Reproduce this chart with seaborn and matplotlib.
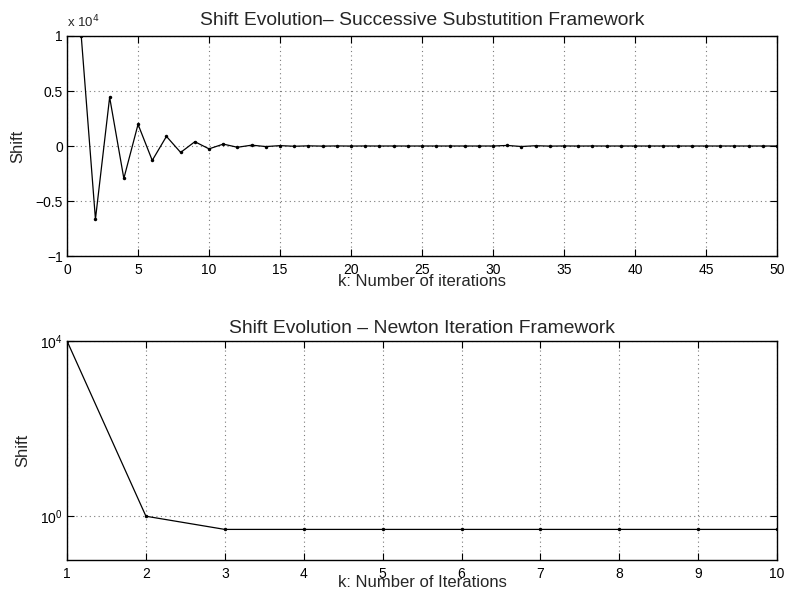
import numpy as np
import pandas as pd
import matplotlib
matplotlib.use("Agg")
import matplotlib.pyplot as plt
import matplotlib.ticker as mticker
import seaborn as sns

# Successive substitution: shift per iteration (k = 1..50)
ss_k = list(range(1, 51))
ss_shift = [10000, -6650, 4430, -2950, 1970, -1310, 875, -585, 390, -260,
            173, -115, 77, -51, 34, -23, 15, -10, 7, -4.5,
            3, -2, 1.3, -0.9, 0.6, -0.4, 0.3, -0.2, 0.1, 0.1,
            50, -45, 25, -10, 5, -3, 2, -1, 0.5, -0.3,
            0.2, -0.1, 0.1, 0, 0, 0, 0, 0, 0, 0]

# Newton iteration: shift per iteration (k = 1..10)
nt_k = list(range(1, 11))
nt_shift = [1e4, 1.0, 0.5, 0.5, 0.5, 0.5, 0.5, 0.5, 0.5, 0.5]

ss_df = pd.DataFrame({"k": ss_k, "shift": ss_shift})
nt_df = pd.DataFrame({"k": nt_k, "shift": nt_shift})

sns.set_style("ticks")
plt.rcParams["font.family"] = ["Liberation Sans", "DejaVu Sans"]
plt.rcParams["axes.unicode_minus"] = True

fig = plt.figure(figsize=(7.85, 5.94), dpi=100)
ax1 = fig.add_axes([0.0854, 0.569, 0.9045, 0.3704])
ax2 = fig.add_axes([0.0854, 0.0572, 0.9045, 0.3687])

grid_kw = dict(color="#7a7a7a", linestyle=(0, (1, 3)), linewidth=0.8)


def style_axes(ax):
    for sp in ax.spines.values():
        sp.set_color("black")
        sp.set_linewidth(1.0)
    ax.tick_params(direction="in", length=5, width=0.8, top=True, right=True,
                   labelsize=10, colors="black")
    ax.tick_params(axis="x", pad=5)
    ax.tick_params(axis="y", pad=3)
    ax.tick_params(which="minor", length=0)
    ax.grid(True, **grid_kw)


# Upper panel
sns.lineplot(data=ss_df, x="k", y="shift", ax=ax1, color="black",
             linewidth=0.9, marker="o", markersize=2.5, markeredgewidth=0,
             markerfacecolor="black")
ax1.set_xlim(0, 50)
ax1.set_ylim(-1e4, 1e4)
ax1.set_xticks(range(0, 51, 5))
ax1.set_yticks([-1e4, -0.5e4, 0, 0.5e4, 1e4])


def scaled(v, pos):
    s = v / 1e4
    if abs(s) < 1e-12:
        return "0"
    txt = f"{s:g}"
    return txt.replace("-", "\u2212")


ax1.yaxis.set_major_formatter(mticker.FuncFormatter(scaled))
style_axes(ax1)
ax1.set_title("Shift Evolution\u2013 Successive Substutition Framework",
              fontsize=13.9, pad=7.8)
ax1.set_xlabel("k: Number of iterations", fontsize=12, labelpad=-2)
ax1.set_ylabel("Shift", fontsize=12, labelpad=7)
ax1.text(0.0, 1.025, r"x 10$^{4}$", transform=ax1.transAxes, fontsize=9.5,
         ha="left", va="bottom")

# Lower panel
sns.lineplot(data=nt_df, x="k", y="shift", ax=ax2, color="black",
             linewidth=0.9, marker="o", markersize=2.5, markeredgewidth=0,
             markerfacecolor="black")
ax2.set_yscale("log")
ax2.set_xlim(1, 10)
ax2.set_ylim(1e-1, 1e4)
ax2.set_xticks(range(1, 11))
ax2.set_yticks([1, 1e4])
ax2.yaxis.set_minor_locator(mticker.NullLocator())
ax2.yaxis.set_major_formatter(mticker.LogFormatterSciNotation())
style_axes(ax2)
ax2.set_title("Shift Evolution \u2013 Newton Iteration Framework",
              fontsize=13.9, pad=5.8)
ax2.set_xlabel("k: Number of Iterations", fontsize=12, labelpad=-4)
ax2.set_ylabel("Shift", fontsize=12, labelpad=7)

fig.savefig("out.png", dpi=100)
